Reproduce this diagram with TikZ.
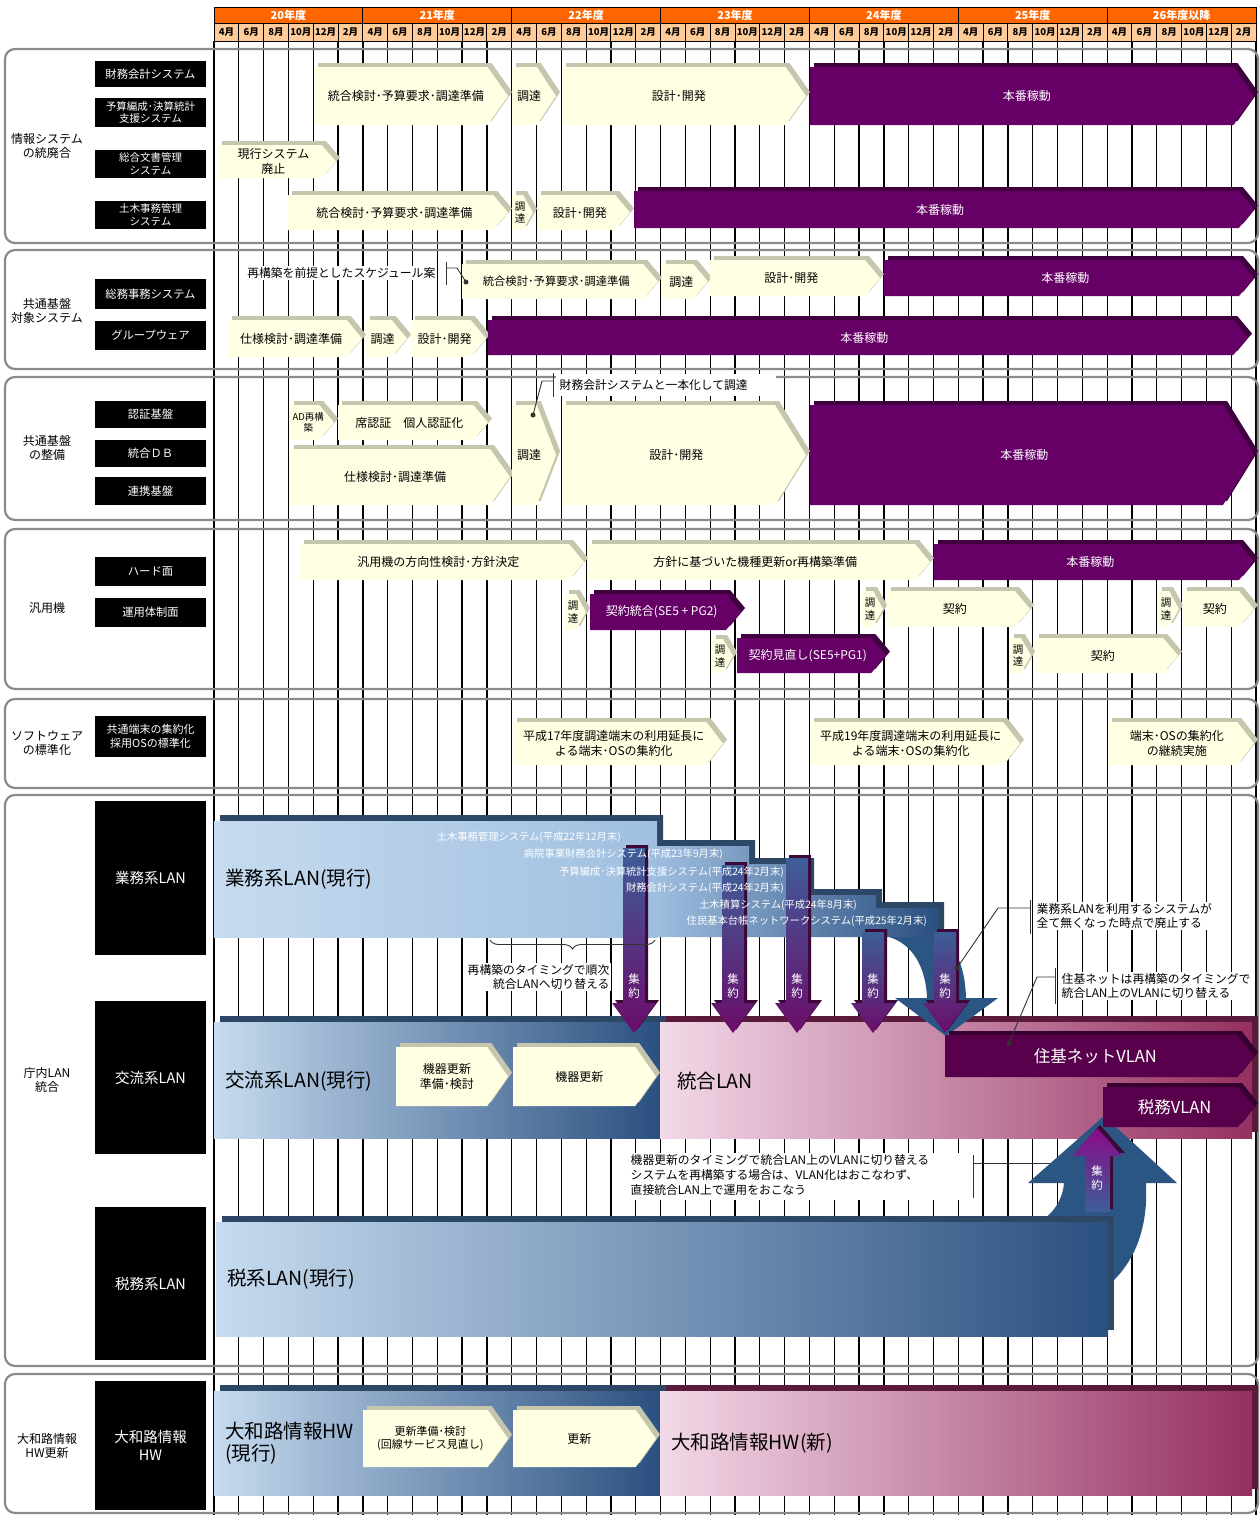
\documentclass[tikz,border=0pt]{standalone}
\usepackage{fontspec}
\setmainfont{Noto Sans CJK JP}
\usetikzlibrary{decorations.pathreplacing}

\definecolor{hdrorange}{HTML}{FF6600}
\definecolor{hdrpeach}{HTML}{FFCC99}
\definecolor{creamface}{HTML}{FFFFE3}
\definecolor{creamedge}{HTML}{C6C6AE}
\definecolor{plumface}{HTML}{660066}
\definecolor{plumedge}{HTML}{400040}
\definecolor{vlanface}{HTML}{58004C}
\definecolor{vlanedge}{HTML}{380030}
\definecolor{secgray}{HTML}{8A8A8A}
\definecolor{navyedge}{HTML}{2C4866}
\definecolor{maroonedge}{HTML}{5A1A3C}
\definecolor{lanlight}{HTML}{C6DBEF}
\definecolor{lanpale}{HTML}{A0BFE0}
\definecolor{lanstep}{HTML}{9EBDDF}
\definecolor{lanmid}{HTML}{A6BDD7}
\definecolor{landark}{HTML}{2A5080}
\definecolor{pinklight}{HTML}{F3D9E8}
\definecolor{pinkmid}{HTML}{DDB4C8}
\definecolor{pinkdark}{HTML}{953060}
\definecolor{bigblue}{HTML}{2B5683}
\definecolor{arrowtop}{HTML}{3E5E98}
\definecolor{arrowbot}{HTML}{6C0C6A}
\definecolor{arrowedge}{HTML}{3C0838}
\definecolor{leadgray}{HTML}{333333}

\tikzset{
  light edge/.style={fill=creamedge},
  light face/.style={fill=creamface},
  light text/.style={text=black},
  plum edge/.style={fill=plumedge},
  plum face/.style={fill=plumface},
  plum text/.style={text=white},
  vlan edge/.style={fill=vlanedge},
  vlan face/.style={fill=vlanface},
  vlan text/.style={text=white},
  bartext/.style={align=center, inner sep=0pt, font=\fontsize{12}{14.5}\selectfont},
  tallchar/.style={font=\fontsize{10.5}{12.5}\selectfont},
  lbl/.style={fill=black, text=white, minimum width=111, align=center, inner sep=0pt,
    font=\fontsize{11.3}{13}\selectfont},
  biglbl/.style={lbl, font=\fontsize{14.5}{17.5}\selectfont},
  seclbl/.style={align=center, inner sep=0pt, font=\fontsize{12}{14.5}\selectfont},
  secbox/.style={draw=secgray, line width=2.2, rounded corners=10},
  gridline/.style={line width=1.3, black},
  yrtxt/.style={text=white, inner sep=0pt, font=\bfseries\fontsize{11}{12}\selectfont},
  mtxt/.style={text=black, inner sep=0pt, font=\bfseries\fontsize{9.5}{11}\selectfont},
  note/.style={fill=white, inner sep=1.5pt, align=left, font=\fontsize{11.8}{14.8}\selectfont},
  callout/.style={draw=leadgray, line width=0.9},
  lantxt/.style={inner sep=0pt, align=left, font=\fontsize{19.5}{22}\selectfont},
  smallwhite/.style={text=white, inner sep=0pt, anchor=east, font=\fontsize{10.3}{11.5}\selectfont},
  arrowtxt/.style={text=white, align=center, inner sep=0pt, font=\fontsize{11.5}{13.5}\selectfont},
}

% chevron bar with an extruded edge: [node opts]{name}{kind}{x1}{y1}{x2}{y2}{text}
\newcommand\gantt[8][]{%
  \pgfmathsetmacro\gtip{min(0.25*(#7-#5)+5, 0.4*(#6-#4))}%
  \pgfmathsetmacro\gxr{#6-4}%
  \pgfmathsetmacro\gxt{\gxr-\gtip}%
  \pgfmathsetmacro\gyt{#5+4}%
  \pgfmathsetmacro\gym{(\gyt+#7)/2}%
  \fill[#3 edge, shift={(4,-4)}] (#4,\gyt) -- (\gxt,\gyt) -- (\gxr,\gym) -- (\gxt,#7) -- (#4,#7) -- cycle;
  \fill[#3 face] (#4,\gyt) -- (\gxt,\gyt) -- (\gxr,\gym) -- (\gxt,#7) -- (#4,#7) -- cycle;
  \node[bartext, #3 text, #1] (#2) at ({(#4+\gxt)/2+\gtip/4},\gym) {#8};
}

% downward consolidation arrow: {name}{centre x}{top y}
\newcommand\dnarrow[3]{%
  \fill[arrowedge, shift={(3,-3)}] (#2-11,#3) -- (#2+11,#3) -- (#2+11,1003) -- (#2+22,1003)
    -- (#2,1033) -- (#2-22,1003) -- (#2-11,1003) -- cycle;
  \shade[top color=arrowtop, bottom color=arrowbot] (#2-11,#3) -- (#2+11,#3) -- (#2+11,1003)
    -- (#2+22,1003) -- (#2,1033) -- (#2-22,1003) -- (#2-11,1003) -- cycle;
  \node[arrowtxt] (#1) at (#2,986) {集\\約};
}

% extruded LAN band: {x1}{y1}{x2}{y2}{edge colour}{shading}
\newcommand\lanband[6]{%
  \fill[#5, shift={(6,-6)}] (#1,#2) rectangle (#3,#4);
  \shade[#6] (#1,#2) rectangle (#3,#4);
}

\begin{document}
\begin{tikzpicture}[x=1pt, y=-1pt]
\useasboundingbox (0,0) rectangle (1260,1515);
\fill[white] (0,0) rectangle (1260,1515);

% ---------- month grid ----------
\foreach \k in {0,...,42} \draw[gridline] ({214+24.81*\k},41) -- ({214+24.81*\k},1515);

% ---------- header ----------
\foreach \yr [count=\i from 0] in {20年度,21年度,22年度,23年度,24年度,25年度,26年度以降} {
  \draw[black, line width=1, fill=hdrorange] ({214+148.857*\i},7) rectangle ({214+148.857*(\i+1)},23);
  \node[yrtxt] (yr\i) at ({214+148.857*\i+74.43},15) {\yr};
}
\foreach \i in {0,...,6} {
  \foreach \m [count=\j from 0] in {4月,6月,8月,10月,12月,2月} {
    \pgfmathsetmacro\cx{214+24.81*(6*\i+\j)}
    \draw[black, line width=1, fill=hdrpeach] (\cx,23) rectangle (\cx+24.81,41);
    \node[mtxt] (m\i-\j) at (\cx+12.4,32) {\m};
  }
}

% ---------- section frames ----------
\draw[secbox] (5,49) rectangle (1258,243);
\draw[secbox] (5,250) rectangle (1258,369);
\draw[secbox] (5,377) rectangle (1258,520);
\draw[secbox] (5,529) rectangle (1258,689);
\draw[secbox] (5,699) rectangle (1258,788);
\draw[secbox] (5,795) rectangle (1258,1366);
\draw[secbox] (5,1374) rectangle (1258,1513);

\node[seclbl] (g1) at (47,146) {情報システム\\の統廃合};
\node[seclbl] (g2) at (47,311) {共通基盤\\対象システム};
\node[seclbl] (g3) at (47,448) {共通基盤\\の整備};
\node[seclbl] (g4) at (47,608) {汎用機};
\node[seclbl] (g5) at (47,743) {ソフトウェア\\の標準化};
\node[seclbl] (g6) at (47,1080) {庁内LAN\\統合};
\node[seclbl] (g7) at (47,1446) {大和路情報\\HW更新};

% ---------- item labels ----------
\node[lbl, minimum height=26] (l1) at (150.5,74) {財務会計システム};
\node[lbl, minimum height=29, font=\fontsize{10.5}{12.5}\selectfont] (l2) at (150.5,112.5) {予算編成･決算統計\\支援システム};
\node[lbl, minimum height=28, font=\fontsize{10.5}{12.5}\selectfont] (l3) at (150.5,164) {総合文書管理\\システム};
\node[lbl, minimum height=28, font=\fontsize{10.5}{12.5}\selectfont] (l4) at (150.5,215) {土木事務管理\\システム};
\node[lbl, minimum height=30] (l5) at (150.5,294) {総務事務システム};
\node[lbl, minimum height=29] (l6) at (150.5,335.5) {グループウェア};
\node[lbl, minimum height=27] (l7) at (150.5,414.5) {認証基盤};
\node[lbl, minimum height=27] (l8) at (150.5,453.5) {統合ＤＢ};
\node[lbl, minimum height=28] (l9) at (150.5,491) {連携基盤};
\node[lbl, minimum height=29] (l10) at (150.5,571.5) {ハード面};
\node[lbl, minimum height=29] (l11) at (150.5,612.5) {運用体制面};
\node[lbl, minimum height=41, font=\fontsize{11}{13.5}\selectfont] (l12) at (150.5,736.5) {共通端末の集約化\\採用OSの標準化};
\node[biglbl, minimum height=154] (l13) at (150.5,878) {業務系LAN};
\node[biglbl, minimum height=153] (l14) at (150.5,1077.5) {交流系LAN};
\node[biglbl, minimum height=153] (l15) at (150.5,1283.5) {税務系LAN};
\node[biglbl, minimum height=129] (l16) at (150.5,1445.5) {大和路情報\\HW};

% ---------- 情報システムの統廃合 ----------
\gantt{s1a}{light}{314}{63}{512}{125}{統合検討･予算要求･調達準備}
\gantt{s1b}{light}{512}{63}{560}{125}{調達}
\gantt{s1c}{light}{562}{63}{810}{125}{設計･開発}
\gantt{s1d}{plum}{810}{63}{1258}{125}{本番稼動}
\gantt{s1e}{light}{218}{141}{340}{178}{現行システム\\廃止}
\gantt{s1f}{light}{288}{191}{512}{230}{統合検討･予算要求･調達準備}
\gantt[tallchar]{s1g}{light}{512}{191}{537}{230}{調\\達}
\gantt{s1h}{light}{537}{191}{634}{230}{設計･開発}
\gantt{s1i}{plum}{634}{187}{1258}{228}{本番稼動}

% ---------- 共通基盤対象システム ----------
\gantt[font=\fontsize{11.3}{13}\selectfont]{s2a}{light}{462}{260}{662}{299}{統合検討･予算要求･調達準備}
\gantt{s2b}{light}{662}{260}{712}{299}{調達}
\gantt{s2c}{light}{710}{256}{884}{296}{設計･開発}
\gantt{s2d}{plum}{884}{256}{1258}{296}{本番稼動}
\gantt{s2e}{light}{228}{316}{366}{357}{仕様検討･調達準備}
\gantt{s2f}{light}{366}{316}{411}{357}{調達}
\gantt{s2g}{light}{411}{316}{490}{357}{設計･開発}
\gantt{s2h}{plum}{488}{316}{1252}{355}{本番稼動}

\node[note, anchor=east] (n1) at (437,273) {再構築を前提としたスケジュール案};
\coordinate (n1top) at (446,262);
\coordinate (n1bot) at (446,285);
\coordinate (n1knee) at (457,268);
\coordinate (n1dot) at (466,282);
\draw[callout] (n1top) -- (n1bot);
\draw[callout] (446,268) -- (n1knee) -- (n1dot);
\fill[leadgray] (n1dot) circle (2.5);

% ---------- 共通基盤の整備 ----------
\gantt[font=\fontsize{9.5}{11}\selectfont]{s3a}{light}{290}{401}{338}{440}{AD再構\\築}
\gantt{s3b}{light}{338}{401}{492}{440}{席認証　個人認証化}
\gantt{s3c}{light}{290}{445}{514}{505}{仕様検討･調達準備}
\gantt{s3d}{light}{512}{401}{560}{505}{調達}
\gantt{s3e}{light}{562}{401}{810}{505}{設計･開発}
\gantt{s3f}{plum}{810}{401}{1258}{505}{本番稼動}

\fill[white] (556,374) rectangle (776,396);
\node[note, fill=none, anchor=west] (n2) at (558,385) {財務会計システムと一本化して調達};
\coordinate (n2top) at (553,373);
\coordinate (n2bot) at (553,397);
\coordinate (n2knee) at (542,381);
\coordinate (n2dot) at (533,415);
\draw[callout] (n2top) -- (n2bot);
\draw[callout] (553,381) -- (n2knee) -- (n2dot);
\fill[leadgray] (n2dot) circle (2.5);

% ---------- 汎用機 ----------
\gantt{s4a}{light}{300}{540}{588}{580}{汎用機の方向性検討･方針決定}
\gantt{s4b}{light}{588}{540}{934}{580}{方針に基づいた機種更新or再構築準備}
\gantt{s4c}{plum}{934}{540}{1258}{580}{本番稼動}
\gantt[tallchar]{s4d}{light}{565}{590}{590}{630}{調\\達}
\gantt{s4e}{plum}{590}{590}{745}{630}{契約統合(SE5 + PG2)}
\gantt[tallchar]{s4f}{light}{712}{635}{737}{673}{調\\達}
\gantt{s4g}{plum}{737}{634}{890}{673}{契約見直し(SE5+PG1)}
\gantt[tallchar]{s4h}{light}{862}{587}{887}{627}{調\\達}
\gantt{s4i}{light}{887}{587}{1034}{627}{契約}
\gantt[tallchar]{s4j}{light}{1010}{634}{1035}{673}{調\\達}
\gantt{s4k}{light}{1035}{634}{1182}{673}{契約}
\gantt[tallchar]{s4l}{light}{1158}{587}{1183}{627}{調\\達}
\gantt{s4m}{light}{1183}{587}{1258}{627}{契約}

% ---------- ソフトウェアの標準化 ----------
\gantt{s5a}{light}{513}{718}{727}{765}{平成17年度調達端末の利用延長に\\よる端末･OSの集約化}
\gantt{s5b}{light}{810}{718}{1024}{765}{平成19年度調達端末の利用延長に\\よる端末･OSの集約化}
\gantt{s5c}{light}{1108}{718}{1258}{765}{端末･OSの集約化\\の継続実施}

% ---------- 庁内LAN統合 ----------
\lanband{214}{1022}{660}{1138}{navyedge}{left color=lanlight, middle color=lanmid, right color=landark}
\lanband{660}{1022}{1252}{1138}{maroonedge}{left color=pinklight, middle color=pinkmid, right color=pinkdark}

% 業務系LAN with its stepped tail
\fill[navyedge, shift={(6,-6)}] (214,821) -- (657,821) -- (657,846) -- (749,846) -- (749,864)
  -- (808,864) -- (808,895) -- (876,895) -- (876,908) -- (938,908) -- (938,937) -- (214,937) -- cycle;
\shade[left color=lanlight, right color=lanpale] (214,821) rectangle (657,937);
\shade[left color=lanstep, right color=landark] (657,846) -- (749,846) -- (749,864) -- (808,864)
  -- (808,895) -- (876,895) -- (876,908) -- (938,908) -- (938,937) -- (657,937) -- cycle;

% curved hand-over arrow into 統合LAN
\fill[bigblue] (889,937) .. controls (913,944) and (926,968) .. (927,998) -- (895,998) -- (946,1036)
  -- (998,998) -- (966,998) .. controls (965,965) and (955,945) .. (938,937) -- cycle;

\dnarrow{a1}{634}{848}
\dnarrow{a2}{733}{865}
\dnarrow{a3}{797}{858}
\dnarrow{a4}{873}{932}
\dnarrow{a5}{945}{932}

\node[smallwhite] (w1) at (621,837) {土木事務管理システム(平成22年12月末)};
\node[smallwhite] (w2) at (723,854) {病院事業財務会計システム(平成23年9月末)};
\node[smallwhite] (w3) at (784,872) {予算編成･決算統計支援システム(平成24年2月末)};
\node[smallwhite] (w4) at (784,888) {財務会計システム(平成24年2月末)};
\node[smallwhite] (w5) at (857,905) {土木積算システム(平成24年8月末)};
\node[smallwhite] (w6) at (927,921) {住民基本台帳ネットワークシステム(平成25年2月末)};

\node[lantxt, anchor=west] (t1) at (225,879) {業務系LAN(現行)};
\node[lantxt, anchor=west] (t2) at (225,1081) {交流系LAN(現行)};
\node[lantxt, anchor=west] (t3) at (677,1081) {統合LAN};

\draw[leadgray, line width=0.9, decorate, decoration={brace, amplitude=9}] (655,940) -- (490,940);
\node[note, anchor=east, align=right] (n3) at (611,977) {再構築のタイミングで順次\\統合LANへ切り替える};

\gantt{k1}{light}{396}{1043}{512}{1106}{機器更新\\準備･検討}
\gantt{k2}{light}{513}{1043}{660}{1106}{機器更新}

% 税系LAN and its rising arrow
\fill[bigblue] (1028,1183) -- (1104,1116) -- (1177,1183) -- (1146,1183) .. controls (1148,1225) and (1137,1258) .. (1112,1282)
  -- (1060,1282) -- (1040,1222) .. controls (1055,1212) and (1063,1198) .. (1064,1183) -- cycle;
\lanband{216}{1222}{1108}{1336}{navyedge}{left color=lanlight, middle color=lanmid, right color=landark}
\node[lantxt, anchor=west] (t4) at (227,1279) {税系LAN(現行)};

\gantt[font=\fontsize{16.5}{18}\selectfont]{v1}{vlan}{945}{1031}{1258}{1077}{住基ネットVLAN}
\gantt[font=\fontsize{16.5}{18}\selectfont]{v2}{vlan}{1103}{1083}{1258}{1127}{税務VLAN}

\fill[arrowedge, shift={(3,-3)}] (1085,1212) -- (1085,1156) -- (1072,1156) -- (1097,1128) -- (1122,1156) -- (1110,1156) -- (1110,1212) -- cycle;
\shade[top color=arrowbot!80!magenta, bottom color=arrowtop] (1085,1212) -- (1085,1156) -- (1072,1156) -- (1097,1128) -- (1122,1156) -- (1110,1156) -- (1110,1212) -- cycle;
\node[arrowtxt] (a6) at (1097,1178) {集\\約};

% notes of 庁内LAN統合
\node[note, anchor=west] (n4) at (1035,916) {業務系LANを利用するシステムが\\全て無くなった時点で廃止する};
\coordinate (n4top) at (1030,900);
\coordinate (n4bot) at (1030,934);
\coordinate (n4knee) at (998,908);
\coordinate (n4dot) at (957,968);
\draw[callout] (n4top) -- (n4bot);
\draw[callout] (1030,908) -- (n4knee) -- (n4dot);
\fill[leadgray] (n4dot) circle (2.5);

\node[note, anchor=west] (n5) at (1060,986) {住基ネットは再構築のタイミングで\\統合LAN上のVLANに切り替える};
\coordinate (n5top) at (1055,968);
\coordinate (n5bot) at (1055,1004);
\coordinate (n5knee) at (1037,977);
\coordinate (n5dot) at (1009,1043);
\draw[callout] (n5top) -- (n5bot);
\draw[callout] (1055,977) -- (n5knee) -- (n5dot);
\fill[leadgray] (n5dot) circle (2.5);

\fill[white] (628,1153) rectangle (962,1200);
\node[note, fill=none, anchor=north west] (n6) at (629,1153) {機器更新のタイミングで統合LAN上のVLANに切り替える\\システムを再構築する場合は、VLAN化はおこなわず、\\直接統合LAN上で運用をおこなう};
\coordinate (n6top) at (973,1155);
\coordinate (n6bot) at (973,1198);
\coordinate (n6end) at (1050,1163);
\draw[callout] (n6top) -- (n6bot);
\draw[callout] (973,1163) -- (n6end);

% ---------- 大和路情報HW更新 ----------
\lanband{214}{1391}{660}{1495}{navyedge}{left color=lanlight, middle color=lanmid, right color=landark}
\lanband{660}{1391}{1252}{1495}{maroonedge}{left color=pinklight, middle color=pinkmid, right color=pinkdark}
\node[lantxt, anchor=west] (t5) at (225,1443) {大和路情報HW\\(現行)};
\node[lantxt, anchor=west] (t6) at (671,1443) {大和路情報HW(新)};
\gantt[font=\fontsize{11}{13.5}\selectfont]{h1}{light}{363}{1406}{512}{1467}{更新準備･検討\\(回線サービス見直し)}
\gantt{h2}{light}{513}{1406}{660}{1467}{更新}

\end{tikzpicture}
\end{document}
